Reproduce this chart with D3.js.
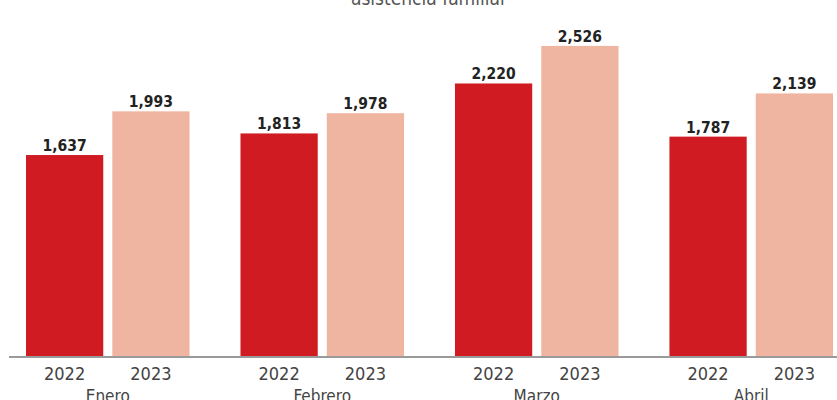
<!DOCTYPE html>
<html><head><meta charset="utf-8">
<script src="https://cdn.jsdelivr.net/npm/d3@7"></script>
<style>
html,body{margin:0;padding:0;background:#fff;}
svg{display:block;}
</style></head>
<body>
<svg id="c" width="837" height="400"></svg>
<script>
const title = "asistencia familiar";
const months = ["Enero", "Febrero", "Marzo", "Abril"];
const years = ["2022", "2023"];
const values2022 = [1637, 1813, 2220, 1787];
const values2023 = [1993, 1978, 2526, 2139];

const colors = {"2022": "#cf1b21", "2023": "#f0b5a0"};
const narrow = "'Liberation Sans Narrow','DejaVu Sans Condensed','Arial Narrow',sans-serif";

const svg = d3.select("#c");
const baseY = 356;
const x0 = d3.scaleBand().domain(months).range([26, 833]).paddingInner(0.2375).paddingOuter(0);
const x1 = d3.scaleBand().domain(years).range([0, x0.bandwidth()]).paddingInner(0.105).paddingOuter(0);
const y = d3.scaleLinear().domain([0, 2900]).range([baseY, 0]);

const data = months.map((m, i) => ({month: m, vals: [{year: "2022", v: values2022[i]}, {year: "2023", v: values2023[i]}]}));

svg.append("text").attr("x", 429).attr("y", 5).attr("text-anchor", "middle")
  .attr("font-family", narrow).attr("font-size", 19).attr("fill", "#555").text(title);

const g = svg.selectAll("g.grp").data(data).join("g").attr("class", "grp")
  .attr("transform", d => `translate(${x0(d.month)},0)`);

g.selectAll("rect").data(d => d.vals).join("rect")
  .attr("x", d => x1(d.year)).attr("width", x1.bandwidth())
  .attr("y", d => y(d.v)).attr("height", d => baseY - y(d.v))
  .attr("fill", d => colors[d.year]);

g.selectAll("text.val").data(d => d.vals).join("text").attr("class", "val")
  .attr("x", d => x1(d.year) + x1.bandwidth() / 2).attr("y", d => y(d.v) - 4)
  .attr("text-anchor", "middle").attr("font-family", "'DejaVu Sans Condensed','DejaVu Sans',sans-serif")
  .attr("font-weight", "bold").attr("font-size", 15.5).attr("fill", "#222")
  .text(d => d3.format(",")(d.v));

// axis
svg.append("line").attr("x1", 9).attr("x2", 837).attr("y1", baseY + 1).attr("y2", baseY + 1)
  .attr("stroke", "#9a9a9a").attr("stroke-width", 2);

g.selectAll("text.yr").data(d => d.vals).join("text").attr("class", "yr")
  .attr("x", d => x1(d.year) + x1.bandwidth() / 2).attr("y", 380)
  .attr("text-anchor", "middle").attr("font-family", narrow)
  .attr("font-size", 18).attr("fill", "#444").text(d => d.year);

g.append("text").attr("x", x0.bandwidth() / 2).attr("y", 402)
  .attr("text-anchor", "middle").attr("font-family", narrow)
  .attr("font-size", 17).attr("fill", "#444").text(d => d.month);
</script>
</body></html>
